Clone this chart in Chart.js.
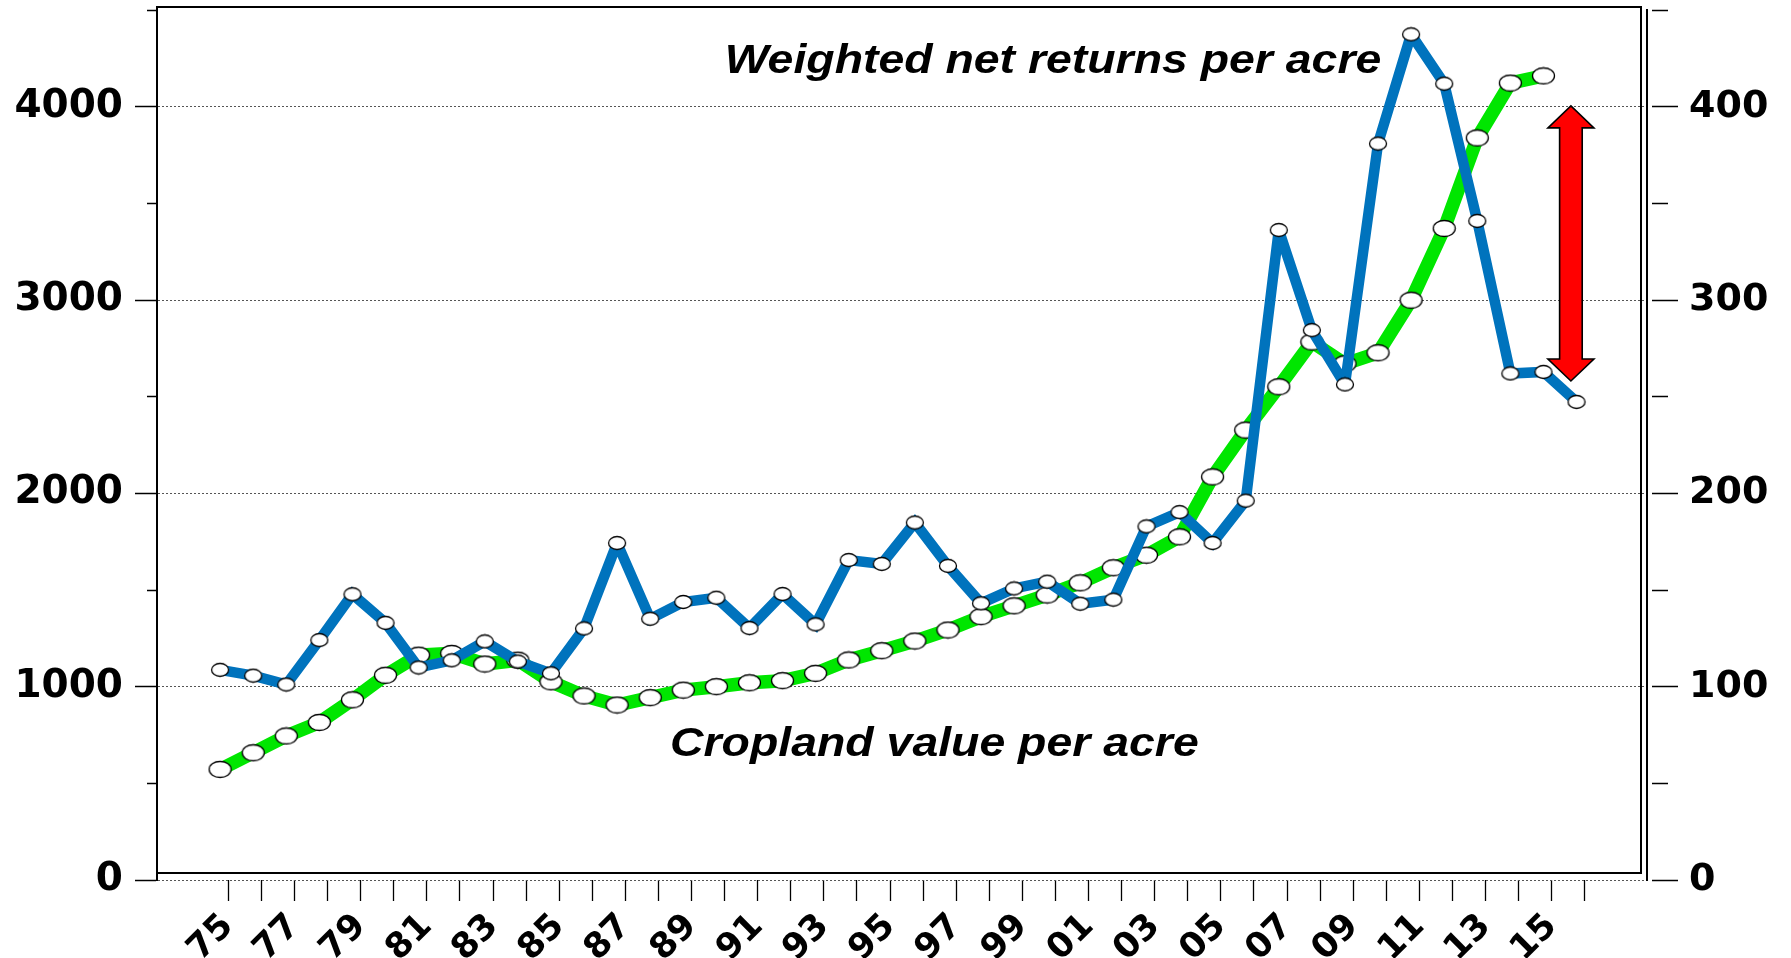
<!DOCTYPE html>
<html>
<head>
<meta charset="utf-8">
<script src="https://cdn.jsdelivr.net/npm/chart.js@4/dist/chart.umd.min.js"></script>
<style>
  html, body { margin: 0; padding: 0; background: #ffffff; }
  #c { display: block; }
</style>
</head>
<body>
<canvas id="c" width="1791" height="958"></canvas>
<script>
// ---------------- DATA ----------------
const years = ['75','76','77','78','79','80','81','82','83','84','85','86','87','88','89','90',
  '91','92','93','94','95','96','97','98','99','00','01','02','03','04','05','06','07','08',
  '09','10','11','12','13','14','15','16'];

// Weighted net returns per acre (right axis)
const netReturns = [108.7, 105.7, 101.1, 124.1, 147.8, 133.0, 109.9, 113.6, 123.4, 113.0,
  106.9, 130.1, 174.3, 135.1, 143.8, 146.0, 130.3, 147.9, 132.2, 165.5,
  163.5, 184.9, 162.5, 143.1, 150.8, 154.3, 142.9, 145.0, 182.9, 190.3,
  174.3, 196.2, 336.2, 284.4, 256.3, 380.9, 437.4, 411.9, 340.9, 262.0,
  262.8, 247.3];

// Cropland value per acre (left axis)
const croplandValue = [572, 658, 745, 815, 932, 1059, 1163, 1172, 1117, 1137,
  1025, 952, 905, 943, 982, 1000, 1020, 1031, 1069, 1138,
  1186, 1236, 1293, 1362, 1418, 1474, 1537, 1615, 1680, 1775,
  2085, 2327, 2551, 2783, 2670, 2727, 2999, 3370, 3838, 4122, 4159];

const leftTicks = [0, 1000, 2000, 3000, 4000];
const rightTicks = [0, 100, 200, 300, 400];

const labelNet = 'Weighted net returns per acre';
const labelCrop = 'Cropland value per acre';

// ---------------- STYLE ----------------
const BLUE = '#0073BD';
const GREEN = '#00E600';
const LABEL_FONT = 'DejaVu Sans';

function ellipseMarker(w, h) {
  const c = document.createElement('canvas');
  c.width = w + 3; c.height = h + 3;
  const g = c.getContext('2d');
  g.beginPath();
  g.ellipse(c.width / 2, c.height / 2, w / 2, h / 2, 0, 0, Math.PI * 2);
  g.fillStyle = '#ffffff';
  g.fill();
  g.lineWidth = 1.3;
  g.strokeStyle = '#000000';
  g.stroke();
  return c;
}
const blueDot = ellipseMarker(17, 13);
const greenDot = ellipseMarker(22, 16);

// annotation plugin: frame, texts, arrow
const decorations = {
  id: 'decorations',
  beforeDatasetsDraw(chart) {
    chart.ctx.miterLimit = 2.2;
  },
  afterDatasetsDraw(chart) {
    const {ctx, scales} = chart;
    const xs = scales.x, ys = scales.y;
    ctx.save();
    ctx.fillStyle = '#000';
    ctx.font = 'italic bold 40px "Liberation Sans", Arial, sans-serif';
    ctx.textBaseline = 'alphabetic';
    ctx.textAlign = 'left';
    const drawStretched = (txt, xv, yv) => {
      const px = xs.getPixelForValue(xv), py = ys.getPixelForValue(yv);
      ctx.save();
      ctx.translate(px, py);
      ctx.scale(1.16, 1);
      ctx.fillText(txt, 0, 0);
      ctx.restore();
    };
    drawStretched(labelNet, 15.25, 4172);
    drawStretched(labelCrop, 13.6, 643);

    // red double arrow
    const cx = xs.getPixelForValue(40.83);
    const top = ys.getPixelForValue(4004);
    const bot = ys.getPixelForValue(2581);
    const hw = 23, sw = 11.3, hh = 22;
    ctx.beginPath();
    ctx.moveTo(cx, top);
    ctx.lineTo(cx + hw, top + hh);
    ctx.lineTo(cx + sw, top + hh);
    ctx.lineTo(cx + sw, bot - hh);
    ctx.lineTo(cx + hw, bot - hh);
    ctx.lineTo(cx, bot);
    ctx.lineTo(cx - hw, bot - hh);
    ctx.lineTo(cx - sw, bot - hh);
    ctx.lineTo(cx - sw, top + hh);
    ctx.lineTo(cx - hw, top + hh);
    ctx.closePath();
    ctx.fillStyle = '#FF0000';
    ctx.fill();
    ctx.lineWidth = 1.6;
    ctx.strokeStyle = '#000';
    ctx.lineJoin = 'miter';
    ctx.miterLimit = 10;
    ctx.stroke();
    ctx.restore();
  },
  afterDraw(chart) {
    const {ctx, chartArea: a} = chart;
    ctx.save();
    ctx.strokeStyle = '#000';
    ctx.lineWidth = 2;
    ctx.strokeRect(a.left, a.top - 3, (a.right - 6) - a.left, (a.bottom - 7) - (a.top - 3));
    ctx.restore();
  }
};

const zeroPad = (s) => { s.paddingTop = 0; s.paddingBottom = 0; };
const noPadY = (w) => (s) => { s.width = w; zeroPad(s); };

const ctx = document.getElementById('c').getContext('2d');
new Chart(ctx, {
  type: 'line',
  data: {
    datasets: [
      {
        label: labelNet,
        data: netReturns.map((v, i) => ({x: i, y: v})),
        yAxisID: 'y2',
        borderColor: BLUE,
        backgroundColor: BLUE,
        borderWidth: 10.5,
        borderJoinStyle: 'miter',
        pointStyle: blueDot,
        pointRadius: 8,
        tension: 0,
        fill: false,
        clip: false,
        order: 0
      },
      {
        label: labelCrop,
        data: croplandValue.map((v, i) => ({x: i, y: v})),
        yAxisID: 'y',
        borderColor: GREEN,
        backgroundColor: GREEN,
        borderWidth: 13.5,
        borderJoinStyle: 'miter',
        pointStyle: greenDot,
        pointRadius: 10,
        tension: 0,
        fill: false,
        clip: false,
        order: 1
      }
    ]
  },
  options: {
    responsive: false,
    animation: false,
    events: [],
    layout: { autoPadding: false, padding: { top: 10, left: 0, right: 0, bottom: 0 } },
    plugins: { legend: { display: false }, tooltip: { enabled: false } },
    scales: {
      x: {
        type: 'linear',
        position: 'bottom',
        min: -1.908,
        max: 43.13,
        afterBuildTicks: (s) => { s.ticks = years.map((_, i) => ({ value: i + 0.25 })); },
        afterFit: (s) => { s.height = 78; s.paddingLeft = 0; s.paddingRight = 0; },
        ticks: {
          autoSkip: false,
          minRotation: 45,
          maxRotation: 45,
          padding: 5,
          color: '#000',
          font: { family: LABEL_FONT, size: 35, weight: 'bold' },
          callback: (v, i) => (i % 2 === 0 ? years[i] : '')
        },
        grid: { drawOnChartArea: false, tickLength: 21, tickColor: '#000', tickWidth: 1.3 },
        border: { display: false }
      },
      y: {
        type: 'linear',
        position: 'left',
        min: 0,
        max: 4500,
        afterFit: noPadY(157),
        afterUpdate: zeroPad,
        afterBuildTicks: (s) => {
          const t = [];
          for (let v = 0; v <= 4500; v += 500) t.push({ value: v });
          s.ticks = t;
        },
        ticks: {
          padding: 12,
          color: '#000',
          font: { family: LABEL_FONT, size: 39, weight: 'bold' },
          callback: (v) => (leftTicks.includes(v) ? String(v) : '')
        },
        grid: {
          color: (c) => (c.tick && leftTicks.includes(c.tick.value) ? '#555555' : 'rgba(0,0,0,0)'),
          lineWidth: 1,
          tickLength: 22,
          tickColor: '#000',
          tickWidth: 1.5,
          tickBorderDash: (c) => (c.tick && !leftTicks.includes(c.tick.value) ? [0, 12, 10, 100] : [])
        },
        border: { display: true, color: '#000', width: 2, dash: [2, 2] }
      },
      y2: {
        type: 'linear',
        position: 'right',
        min: 0,
        max: 450,
        afterFit: noPadY(144),
        afterUpdate: zeroPad,
        afterBuildTicks: (s) => {
          const t = [];
          for (let v = 0; v <= 450; v += 50) t.push({ value: v });
          s.ticks = t;
        },
        ticks: {
          padding: 11,
          color: '#000',
          font: { family: LABEL_FONT, size: 38, weight: 'bold' },
          callback: (v) => (rightTicks.includes(v) ? String(v) : '')
        },
        grid: {
          drawOnChartArea: false,
          tickLength: 31,
          tickColor: '#000',
          tickWidth: 1.5,
          tickBorderDash: (c) => (c.tick && !rightTicks.includes(c.tick.value) ? [0, 4, 16, 100] : [0, 4, 27, 100])
        },
        border: { display: true, color: '#000', width: 2 }
      }
    }
  },
  plugins: [decorations]
});
</script>
</body>
</html>
